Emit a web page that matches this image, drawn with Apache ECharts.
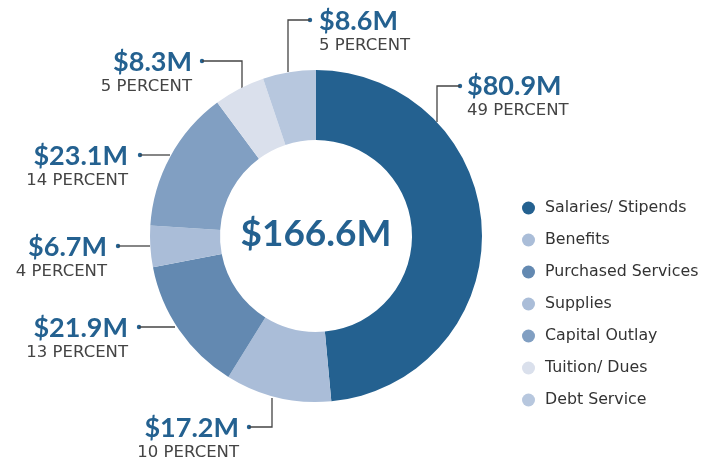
<!DOCTYPE html>
<html>
<head>
<meta charset="utf-8">
<script src="https://cdn.jsdelivr.net/npm/echarts@6/dist/echarts.min.js"></script>
<style>
  html, body { margin: 0; padding: 0; background: #fff; }
  #chart { width: 717px; height: 465px; }
</style>
</head>
<body>
<div id="chart"></div>
<script>
// data
const categories = ['Salaries/ Stipends', 'Benefits', 'Purchased Services', 'Supplies', 'Capital Outlay', 'Tuition/ Dues', 'Debt Service']
const amounts = [80.9, 17.2, 21.9, 6.7, 23.1, 8.3, 8.6] // $M
const percents = [49, 10, 13, 4, 14, 5, 5]
const totalAmount = 166.6
const colors = ['#246190', '#aabdd8', '#6389b1', '#aabdd8', '#819fc2', '#dae0ec', '#b7c7de']

// where each callout sits: text anchor, align, elbow path (start on ring -> dot)
const callouts = [
  { x: 467, y: 72, align: 'left', path: [[437, 122], [437, 86], [460, 86]] },
  { x: 239, y: 414, align: 'right', path: [[272, 398], [272, 427], [249, 427]] },
  { x: 128, y: 314, align: 'right', path: [[175, 327], [139, 327]] },
  { x: 107, y: 233, align: 'right', path: [[150, 246], [118, 246]] },
  { x: 128, y: 142, align: 'right', path: [[170, 155], [140, 155]] },
  { x: 192, y: 48, align: 'right', path: [[242, 88], [242, 61], [202, 61]] },
  { x: 319, y: 7, align: 'left', path: [[288, 72], [288, 20], [310, 20]] }
]

const BLUE = '#246190'
const BOLD_FONT = 'Lato, "Open Sans", sans-serif'
const FONT = '"DejaVu Sans", sans-serif'

const chart = echarts.init(document.getElementById('chart'))

const seriesData = categories.map((name, i) => ({
  name,
  value: amounts[i],
  itemStyle: { color: colors[i] }
}))

const dots = callouts.map(c => {
  const end = c.path[c.path.length - 1]
  return {
    type: 'circle',
    shape: { cx: end[0], cy: end[1], r: 2.2 },
    style: { fill: BLUE },
    silent: true
  }
})

const option = {
  animation: false,
  color: colors,
  legend: {
    orient: 'vertical',
    left: 522,
    top: 200,
    padding: 0,
    icon: 'circle',
    itemWidth: 13,
    itemHeight: 13,
    itemGap: 16,
    selectedMode: false,
    data: categories,
    textStyle: {
      fontFamily: FONT,
      fontSize: 15.8,
      lineHeight: 16,
      color: '#333',
      padding: [0, 0, 0, 5]
    }
  },
  graphic: [
    {
      type: 'text',
      x: 316,
      y: 234,
      silent: true,
      style: {
        text: '$' + totalAmount.toFixed(1) + 'M',
        align: 'center',
        verticalAlign: 'middle',
        fill: BLUE,
        font: 'bold 37px ' + BOLD_FONT
      }
    },
    ...dots
  ],
  series: [
    {
      type: 'pie',
      center: [316, 236],
      radius: [96, 166],
      startAngle: 90,
      clockwise: true,
      avoidLabelOverlap: false,
      silent: true,
      emphasis: { disabled: true },
      data: seriesData,
      label: {
        show: true,
        position: 'outside',
        formatter: p => '{v|$' + amounts[p.dataIndex].toFixed(1) + 'M}\n{p|' + percents[p.dataIndex] + ' PERCENT}',
        rich: {
          v: { fontFamily: BOLD_FONT, fontWeight: 'bold', fontSize: 27, lineHeight: 28, color: BLUE },
          p: { fontFamily: FONT, fontSize: 16.5, lineHeight: 22, color: '#444' }
        }
      },
      labelLine: {
        show: true,
        lineStyle: { color: '#444', width: 1.3 }
      },
      labelLayout: params => {
        const c = callouts[params.dataIndex]
        return {
          x: c.x,
          y: c.y,
          align: c.align,
          verticalAlign: 'top',
          labelLinePoints: c.path
        }
      }
    }
  ]
}

chart.setOption(option)
</script>
</body>
</html>
